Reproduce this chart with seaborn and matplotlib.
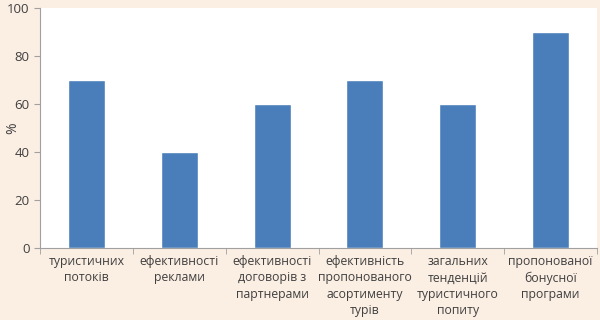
import pandas as pd
import seaborn as sns
import matplotlib.pyplot as plt

# Data
categories = [
    "туристичних\nпотоків",
    "ефективності\nреклами",
    "ефективності\nдоговорів з\nпартнерами",
    "ефективність\nпропонованого\nасортименту\nтурів",
    "загальних\nтенденцій\nтуристичного\nпопиту",
    "пропонованої\nбонусної\nпрограми",
]
values = [70, 40, 60, 70, 60, 90]

df = pd.DataFrame({"category": categories, "value": values})

bg = "#FBEEE3"
text_color = "#404040"

sns.set_style("white")
plt.rcParams["font.family"] = ["Open Sans", "DejaVu Sans"]

fig = plt.figure(figsize=(6, 3.2), dpi=100, facecolor=bg)
ax = fig.add_axes([40 / 600, 72 / 320, 557 / 600, 240 / 320])
ax.set_facecolor("white")

sns.barplot(data=df, x="category", y="value", color="#4A7EBB",
            saturation=1, width=0.4, ax=ax)

ax.set_ylim(0, 100)
ax.set_xlim(-0.5, len(categories) - 0.5)
ax.set_yticks(range(0, 101, 20))
ax.set_xlabel("")
ax.set_ylabel("%", color=text_color, fontsize=10)
ax.yaxis.set_label_coords(-0.035, 0.5)

# Excel-style: tick marks between categories
ax.set_xticks([i + 0.5 for i in range(-1, len(categories))], minor=True)
ax.tick_params(axis="x", which="major", length=0, labelsize=8.8,
               labelcolor=text_color, pad=5)
ax.tick_params(axis="x", which="minor", length=4, color="#A0A0A0",
               bottom=True)
ax.tick_params(axis="y", length=4, color="#A0A0A0", labelsize=9.5,
               labelcolor=text_color, left=True)
for lbl in ax.get_xticklabels():
    lbl.set_linespacing(1.35)

for side in ["top", "right"]:
    ax.spines[side].set_visible(False)
for side in ["left", "bottom"]:
    ax.spines[side].set_color("#A0A0A0")
    ax.spines[side].set_linewidth(0.8)

fig.savefig("out.png", dpi=100, facecolor=bg)
